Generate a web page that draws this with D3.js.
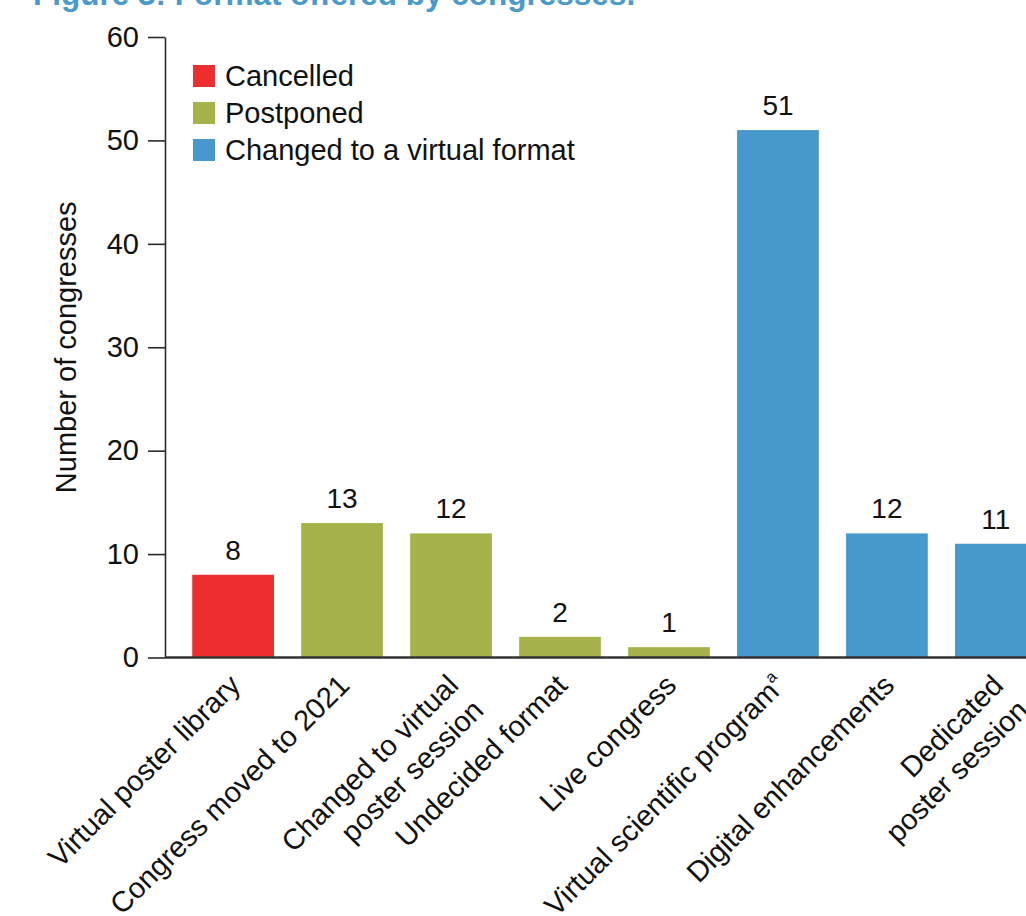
<!DOCTYPE html>
<html>
<head>
<meta charset="utf-8">
<script src="https://cdn.jsdelivr.net/npm/d3@7"></script>
<style>
html,body{margin:0;padding:0;background:#fff;overflow:hidden;}
svg{display:block;font-family:"Liberation Sans",Arial,Helvetica,sans-serif;}
</style>
</head>
<body>
<svg id="chart" width="1026" height="916"></svg>
<script>
const title = "Figure 3: Format offered by congresses.";
const categories = [
  ["Virtual poster library"],
  ["Congress moved to 2021"],
  ["Changed to virtual", "poster session"],
  ["Undecided format"],
  ["Live congress"],
  ["Virtual scientific program"],
  ["Digital enhancements"],
  ["Dedicated", "poster session"]
];
const superscripts = ["", "", "", "", "", "a", "", ""];
const values = [8, 13, 12, 2, 1, 51, 12, 11];
const groups = ["Cancelled", "Postponed", "Postponed", "Postponed", "Postponed",
  "Changed to a virtual format", "Changed to a virtual format", "Changed to a virtual format"];
const legendLabels = ["Cancelled", "Postponed", "Changed to a virtual format"];
const legendColors = ["#ee2e2e", "#a5b34a", "#4899cb"];
const yTicks = [0, 10, 20, 30, 40, 50, 60];
const yTitle = "Number of congresses";

const svg = d3.select("#chart");
const axisX = 165, baseY = 657.5, topY = 37;
const FS = 29;

const color = d3.scaleOrdinal().domain(legendLabels).range(legendColors);
const x = d3.scaleBand().domain(d3.range(values.length)).range([axisX, 1064]).paddingInner(0.25).paddingOuter(0.25);
const y = d3.scaleLinear().domain([0, 60]).range([baseY, topY]);

// title (mostly cropped)
svg.append("text").attr("x", 33).attr("y", 5)
  .attr("font-size", 31.5).attr("font-weight", "bold").attr("fill", "#4a9acb")
  .text(title);

// bars
svg.append("g").selectAll("rect").data(values).join("rect")
  .attr("x", (d, i) => x(i)).attr("width", x.bandwidth())
  .attr("y", d => y(d)).attr("height", d => y(0) - y(d))
  .attr("fill", (d, i) => color(groups[i]));

// value labels
svg.append("g").selectAll("text").data(values).join("text")
  .attr("x", (d, i) => x(i) + x.bandwidth() / 2)
  .attr("y", d => y(d) - 15)
  .attr("text-anchor", "middle").attr("font-size", 28).attr("fill", "#111")
  .text(d => d);

// y axis
const yAxis = d3.axisLeft(y).tickValues(yTicks).tickSize(17).tickSizeOuter(0).tickPadding(9);
const gy = svg.append("g").attr("transform", `translate(${axisX},0)`).call(yAxis);
gy.select(".domain").attr("stroke", "#2a2a2a").attr("stroke-width", 1.6);
gy.selectAll(".tick line").attr("stroke", "#2a2a2a").attr("stroke-width", 1.6);
gy.selectAll(".tick text").attr("font-size", FS).attr("fill", "#111")
  .attr("font-family", "Liberation Sans, Arial, sans-serif");

// x axis line
const xAxis = d3.axisBottom(x).tickSize(0).tickSizeOuter(0).tickFormat("");
const gx = svg.append("g").attr("transform", `translate(0,${baseY})`).call(xAxis);
gx.select(".domain").attr("stroke", "#333").attr("stroke-width", 2.4)
  .attr("d", `M${axisX},0H1100`);

// x labels
const lab = svg.append("g").selectAll("text").data(categories).join("text")
  .attr("transform", (d, i) => `translate(${x(i) + x.bandwidth() / 2 + 9},687) rotate(-45)`)
  .attr("text-anchor", "end").attr("font-size", FS).attr("fill", "#111");
lab.each(function (lines, i) {
  const t = d3.select(this);
  lines.forEach((ln, j) => {
    const ts = t.append("tspan").attr("x", 0).attr("dy", j === 0 ? 0 : "1.22em").text(ln);
    if (j === lines.length - 1 && superscripts[i]) {
      ts.append("tspan").attr("font-size", 16).attr("dy", -13).text(superscripts[i]);
    }
  });
});

// y title
svg.append("text")
  .attr("transform", `translate(76,${(baseY + topY) / 2}) rotate(-90)`)
  .attr("text-anchor", "middle").attr("font-size", FS).attr("fill", "#111")
  .text(yTitle);

// legend
const lg = svg.append("g").selectAll("g").data(legendLabels).join("g")
  .attr("transform", (d, i) => `translate(193,${65 + i * 37})`);
lg.append("rect").attr("width", 22).attr("height", 22).attr("fill", d => color(d));
lg.append("text").attr("x", 32).attr("y", 21).attr("font-size", FS).attr("fill", "#111").text(d => d);
</script>
</body>
</html>
